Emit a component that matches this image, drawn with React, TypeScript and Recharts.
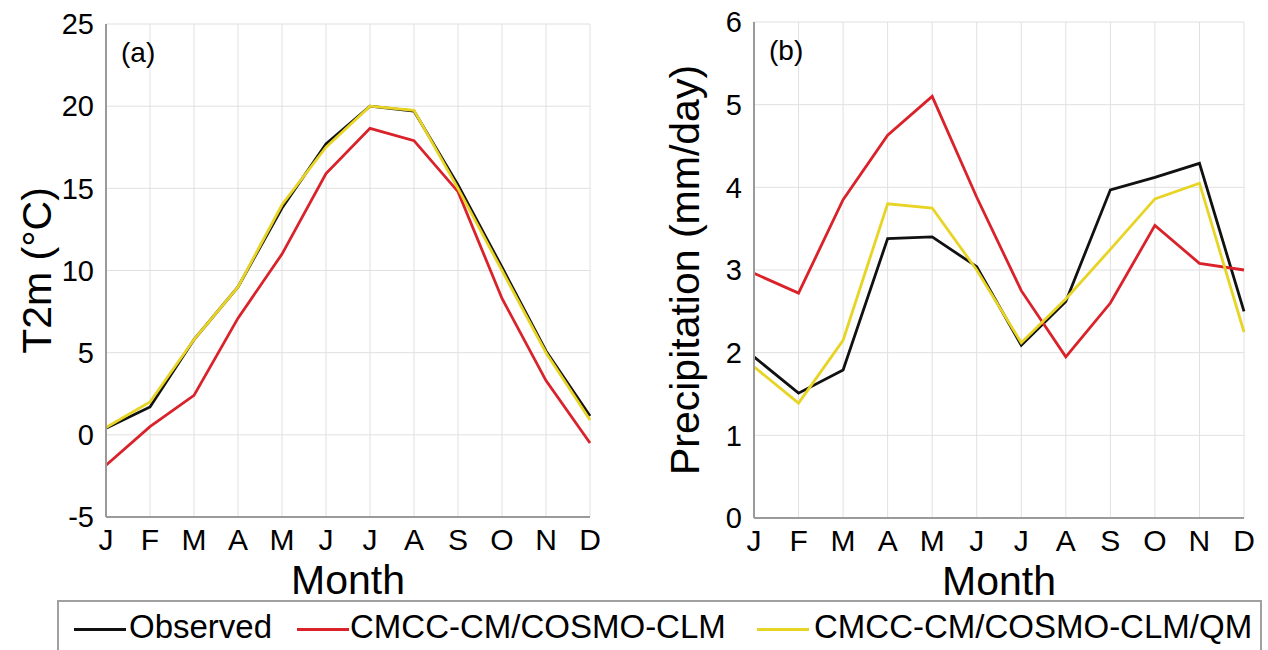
import { LineChart, Line, XAxis, YAxis, CartesianGrid, Label } from 'recharts';

const months = ['J', 'F', 'M', 'A', 'M', 'J', 'J', 'A', 'S', 'O', 'N', 'D'];

// T2m (°C)
const tObserved = [0.4, 1.7, 5.8, 9.0, 13.8, 17.7, 20.0, 19.7, 15.2, 10.2, 5.1, 1.15];
const tModel = [-1.85, 0.5, 2.4, 7.1, 11.0, 15.9, 18.65, 17.9, 14.8, 8.3, 3.3, -0.5];
const tQm = [0.45, 2.0, 5.8, 9.0, 14.0, 17.5, 20.0, 19.75, 15.0, 10.0, 5.0, 0.9];

// Precipitation (mm/day)
const pObserved = [1.95, 1.51, 1.79, 3.38, 3.4, 3.04, 2.09, 2.62, 3.97, 4.12, 4.29, 2.5];
const pModel = [2.96, 2.72, 3.85, 4.63, 5.1, 3.88, 2.75, 1.95, 2.6, 3.54, 3.08, 3.0];
const pQm = [1.83, 1.39, 2.15, 3.8, 3.75, 3.0, 2.12, 2.65, 3.25, 3.86, 4.05, 2.25];

const tTicks = [-5, 0, 5, 10, 15, 20, 25];
const pTicks = [0, 1, 2, 3, 4, 5, 6];

const BLACK = '#111111';
const RED = '#d9222a';
const YELLOW = '#e8d424';
const FONT = '"Liberation Sans", Arial, sans-serif';

const tData = months.map((m, i) => ({ i, m, obs: tObserved[i], mod: tModel[i], qm: tQm[i] }));
const pData = months.map((m, i) => ({ i, m, obs: pObserved[i], mod: pModel[i], qm: pQm[i] }));

function Panel(props: {
  data: any[];
  domain: [number, number];
  ticks: number[];
  yLabel: string;
  tag: string;
  margin: { top: number; right: number; bottom: number; left: number };
  width: number;
}) {
  const { data, domain, ticks, yLabel, tag, margin, width } = props;
  const axisGrey = '#9a9a9a';
  return (
    <LineChart width={width} height={640} data={data} margin={margin}>
      <CartesianGrid stroke="#e0e0e0" strokeWidth={1} vertical horizontal />
      <XAxis
        dataKey="i"
        type="number"
        domain={[0, 11]}
        ticks={[0, 1, 2, 3, 4, 5, 6, 7, 8, 9, 10, 11]}
        tickFormatter={(v: number) => months[v]}
        stroke={axisGrey}
        strokeWidth={2}
        tickLine={false}
        tickMargin={6}
        height={75}
        tick={{ fill: '#000', fontSize: 30, fontFamily: FONT }}
        interval={0}
      >
        <Label value="Month" position="insideBottom" offset={-2} style={{ fill: '#000', fontSize: 41, fontFamily: FONT }} />
      </XAxis>
      <XAxis
        xAxisId="top"
        dataKey="i"
        type="number"
        orientation="top"
        domain={[0, 11]}
        ticks={[0, 1, 2, 3, 4, 5, 6, 7, 8, 9, 10, 11]}
        mirror
        tickSize={5}
        tickFormatter={() => ''}
        stroke={axisGrey}
        strokeWidth={2}
        height={0}
      />
      <YAxis
        domain={domain}
        ticks={ticks}
        type="number"
        stroke={axisGrey}
        strokeWidth={2}
        tickLine={false}
        tickMargin={6}
        width={60}
        tick={{ fill: '#000', fontSize: 29, fontFamily: FONT }}
        interval={0}
      >
        <Label
          value={yLabel}
          angle={-90}
          position="left"
          offset={10}
          style={{ fill: '#000', fontSize: 41, fontFamily: FONT, textAnchor: 'middle' }}
        />
      </YAxis>
      <YAxis
        yAxisId="right"
        orientation="right"
        domain={domain}
        ticks={ticks}
        type="number"
        mirror
        tickSize={5}
        tickFormatter={() => ''}
        stroke={axisGrey}
        strokeWidth={2}
        width={0}
      />
      <Line dataKey="obs" stroke={BLACK} strokeWidth={2.8} dot={false} isAnimationActive={false} />
      <Line dataKey="mod" stroke={RED} strokeWidth={2.8} dot={false} isAnimationActive={false} />
      <Line dataKey="qm" stroke={YELLOW} strokeWidth={2.8} dot={false} isAnimationActive={false} />
      <text x={margin.left + 60 + 15} y={margin.top + 38} fontSize={28} fontFamily={FONT} fill="#000">
        {tag}
      </text>
    </LineChart>
  );
}

const legendItems = [
  { label: 'Observed', color: BLACK, line: 15, text: 70 },
  { label: 'CMCC-CM/COSMO-CLM', color: RED, line: 238, text: 291 },
  { label: 'CMCC-CM/COSMO-CLM/QM', color: YELLOW, line: 698, text: 755 },
];

export default function App() {
  return (
    <div style={{ position: 'absolute', left: 0, top: 0, width: 1268, height: 650, background: '#fff', overflow: 'hidden' }}>
      <div style={{ position: 'absolute', left: 0, top: 0 }}>
        <Panel
          data={tData}
          domain={[-5, 25]}
          ticks={tTicks}
          yLabel="T2m (°C)"
          tag="(a)"
          width={620}
          margin={{ top: 24, right: 30, bottom: 48, left: 46 }}
        />
      </div>
      <div style={{ position: 'absolute', left: 640, top: 0 }}>
        <Panel
          data={pData}
          domain={[0, 6]}
          ticks={pTicks}
          yLabel="Precipitation (mm/day)"
          tag="(b)"
          width={628}
          margin={{ top: 22, right: 24, bottom: 47, left: 54 }}
        />
      </div>
      <div
        style={{
          position: 'absolute',
          left: 57,
          top: 600,
          width: 1205,
          height: 60,
          border: '2px solid #a0a0a0',
          boxSizing: 'border-box',
          background: '#fff',
        }}
      >
        {legendItems.map((it) => (
          <div key={it.label}>
            <div
              style={{ position: 'absolute', left: it.line, top: 26, width: 52, height: 3, background: it.color }}
            />
            <div
              style={{
                position: 'absolute',
                left: it.text,
                top: 6,
                fontSize: 33,
                fontFamily: '"Liberation Sans Narrow", "Liberation Sans", Arial, sans-serif',
                color: '#000',
                whiteSpace: 'nowrap',
                lineHeight: '38px',
              }}
            >
              {it.label}
            </div>
          </div>
        ))}
      </div>
    </div>
  );
}
